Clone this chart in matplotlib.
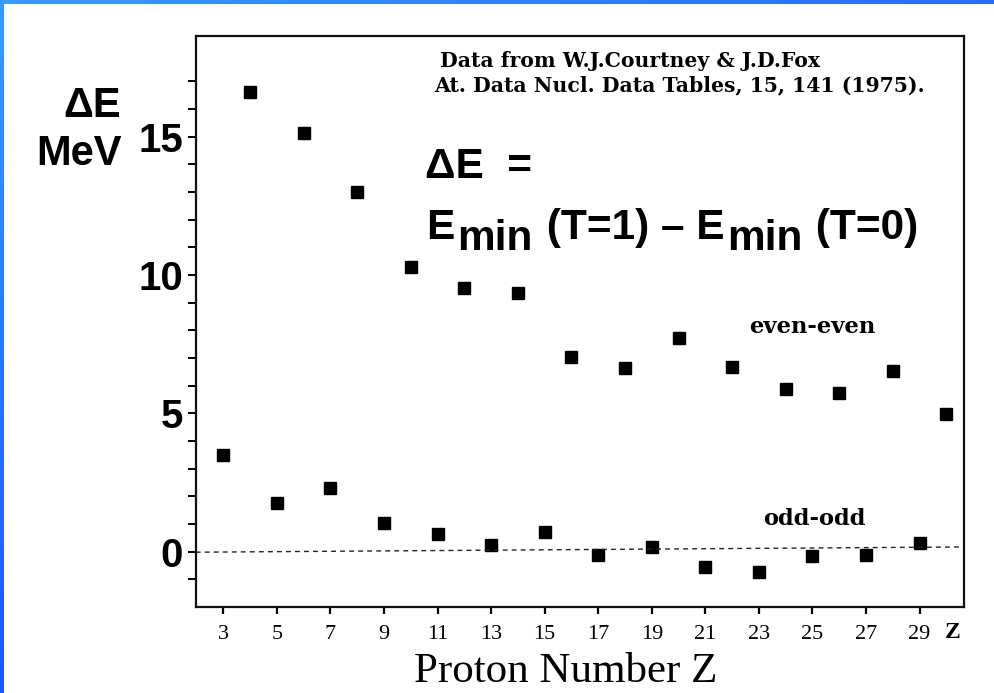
import numpy as np
import matplotlib
matplotlib.use("Agg")
import matplotlib.pyplot as plt
from matplotlib.transforms import IdentityTransform

# Isospin splitting energies for N = Z nuclei
z_even = [4, 6, 8, 10, 12, 14, 16, 18, 20, 22, 24, 26, 28, 30]
de_even = [16.60, 15.12, 12.99, 10.29, 9.54, 9.36, 7.05, 6.65, 7.72, 6.66, 5.87, 5.72, 6.52, 4.99]
z_odd = [3, 5, 7, 9, 11, 13, 15, 17, 19, 21, 23, 25, 27, 29]
de_odd = [3.51, 1.77, 2.29, 1.03, 0.65, 0.24, 0.70, -0.12, 0.18, -0.55, -0.74, -0.14, -0.11, 0.30]
x_ticks = list(range(3, 30, 2))
y_major = [0, 5, 10, 15]

W, H = 994, 693
fig = plt.figure(figsize=(W / 100, H / 100), dpi=100)
fig.patch.set_facecolor("white")

SANS = "Liberation Sans"
SERIF = "Liberation Serif"
SLAB = "DejaVu Serif"


def px(x, y):
    """pixel position measured from the top-left corner -> display coords"""
    return x, H - y


# slide frame: blue bands along the top and left edges
top = fig.add_axes([0, 1 - 4 / H, 1, 4 / H])
grad_h = np.linspace(0, 1, 256)[None, :, None]
c0 = np.array([0.22, 0.60, 1.0])
c1 = np.array([0.16, 0.42, 1.0])
top.imshow(c0 + (c1 - c0) * grad_h, aspect="auto")
top.axis("off")
left = fig.add_axes([0, 0, 4 / W, 1])
grad_v = np.linspace(0, 1, 256)[:, None, None]
c2 = np.array([0.13, 0.33, 1.0])
left.imshow(c0 + (c2 - c0) * grad_v, aspect="auto")
left.axis("off")

# main plot area
x0, x1, y0, y1 = 195.7, 964.0, 36.0, 606.7
ax = fig.add_axes([x0 / W, 1 - y1 / H, (x1 - x0) / W, (y1 - y0) / H])
ax.set_xlim(1.97, 30.66)
ax.set_ylim(-1.99, 18.64)

for s in ax.spines.values():
    s.set_linewidth(1.6)
    s.set_color("#111111")

ax.plot(z_even, de_even, ls="none", marker="s", ms=8.5, color="black")
ax.plot(z_odd, de_odd, ls="none", marker="s", ms=8.5, color="black")

# zero reference line
ax.plot([1.97, 30.66], [-0.02, 0.17], ls=(0, (3.5, 3)), lw=1.0, color="#222222")

ax.set_xticks(x_ticks)
ax.set_xticklabels([str(v) for v in x_ticks], fontfamily=SERIF, fontsize=16)
ax.tick_params(axis="x", direction="out", length=5, width=1.6, pad=8)

ax.set_yticks(range(-1, 18))
ax.set_yticklabels([str(v) if v in y_major else "" for v in range(-1, 18)],
                   fontfamily=SANS, fontweight="bold", fontsize=29)
ax.tick_params(axis="y", direction="out", length=6, width=1.4, pad=3)

# "Z" marker at the end of the x axis
ax.text(30.25, -2.55, "Z", fontfamily=SERIF, fontweight="bold", fontsize=17,
        ha="center", va="top", transform=ax.transData, clip_on=False)

# axis titles
fig.text(*px(121, 117), "\u0394E", transform=IdentityTransform(), ha="right", va="baseline",
         fontfamily=SANS, fontweight="bold", fontsize=30)
fig.text(*px(122, 165), "MeV", transform=IdentityTransform(), ha="right", va="baseline",
         fontfamily=SANS, fontweight="bold", fontsize=30)
fig.text(*px(566, 682), "Proton Number Z", transform=IdentityTransform(), ha="center",
         va="baseline", fontfamily=SERIF, fontsize=31)

# reference
fig.text(*px(440, 67), "Data from W.J.Courtney & J.D.Fox", transform=IdentityTransform(),
         ha="left", va="baseline", fontfamily=SLAB, fontweight="bold", fontsize=14.7)
fig.text(*px(434, 91), "At. Data Nucl. Data Tables, 15, 141 (1975).", transform=IdentityTransform(),
         ha="left", va="baseline", fontfamily=SLAB, fontweight="bold", fontsize=14.7)

# series labels
fig.text(*px(749, 333), "even-even", transform=IdentityTransform(), ha="left", va="baseline",
         fontfamily=SLAB, fontweight="bold", fontsize=16.3)
fig.text(*px(763, 525), "odd-odd", transform=IdentityTransform(), ha="left", va="baseline",
         fontfamily=SLAB, fontweight="bold", fontsize=16.3)

# definition of Delta E
FS = 30.5
fig.text(*px(425, 178), "\u0394E  =", transform=IdentityTransform(), ha="left", va="baseline",
         fontfamily=SANS, fontweight="bold", fontsize=FS)

renderer = fig.canvas.get_renderer()
pieces = [("E", 0, 0), ("min", 11, 3), (" (T=1) \u2013 E", 0, 2), ("min", 11, 3), (" (T=0)", 0, 2)]
xcur = 426
for txt, drop, gap in pieces:
    xcur += gap
    t = fig.text(*px(xcur, 239 + drop), txt, transform=IdentityTransform(), ha="left",
                 va="baseline", fontfamily=SANS, fontweight="bold", fontsize=FS)
    xcur = t.get_window_extent(renderer).x1

fig.savefig("out.png", dpi=100)
